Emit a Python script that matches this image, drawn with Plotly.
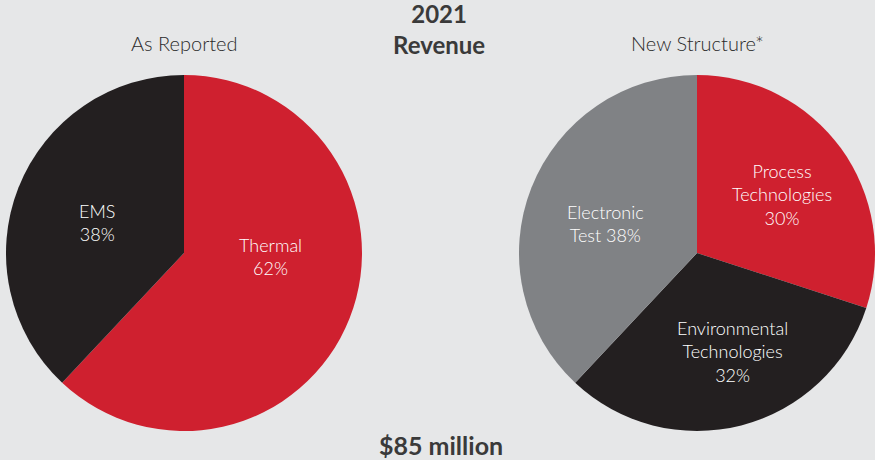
import plotly.graph_objects as go

W, H = 875, 460

left_labels = ["Thermal", "EMS"]
left_values = [62, 38]
left_colors = ["#cf202f", "#231f20"]
left_text = ["Thermal<br>62%", "EMS<br>38%"]

right_labels = ["Process Technologies", "Environmental Technologies", "Electronic Test"]
right_values = [30, 32, 38]
right_colors = ["#cf202f", "#231f20", "#808285"]
right_text = ["Process<br>Technologies<br>30%", "Environmental<br>Technologies<br>32%", "Electronic<br>Test 38%"]

left_title = "As Reported"
right_title = "New Structure*"
main_title = "2021<br>Revenue"
total_text = "$85 million"

# label anchor positions in pixels (x, y from top)
left_pos = [(270, 256), (97, 222)]
right_pos = [(782, 194), (732, 351), (605, 223)]

FONT = "Lato"
BG = "#e6e7e8"

fig = go.Figure()

def px(x, y):
    return x / W, 1 - y / H

def pie_domain(cx, cy, r):
    return dict(x=[(cx - r) / W, (cx + r) / W], y=[1 - (cy + r) / H, 1 - (cy - r) / H])

fig.add_trace(go.Pie(
    labels=left_labels, values=left_values, sort=False, direction="clockwise", rotation=0,
    marker=dict(colors=left_colors, line=dict(width=0)), textinfo="none",
    domain=pie_domain(184, 253, 178), hoverinfo="skip", showlegend=False,
))
fig.add_trace(go.Pie(
    labels=right_labels, values=right_values, sort=False, direction="clockwise", rotation=0,
    marker=dict(colors=right_colors, line=dict(width=0)), textinfo="none",
    domain=pie_domain(697, 253, 178), hoverinfo="skip", showlegend=False,
))

annotations = []
for t, (x, y) in zip(left_text + right_text, left_pos + right_pos):
    ax, ay = px(x, y)
    annotations.append(dict(x=ax, y=ay, xref="paper", yref="paper", text=t, showarrow=False,
                            xanchor="center", yanchor="middle",
                            font=dict(family=FONT, size=18, color="white", weight=300), align="center"))

for t, (x, y), size, bold in [
    (left_title, (184, 43), 20, False),
    (right_title, (697, 43), 20, False),
    (main_title, (439, 29), 24, True),
    (total_text, (441, 445), 25, True),
]:
    ax, ay = px(x, y)
    annotations.append(dict(x=ax, y=ay, xref="paper", yref="paper",
                            text=f"<b>{t}</b>" if bold else t, showarrow=False,
                            xanchor="center", yanchor="middle",
                            font=dict(family=FONT, size=size, color="#3a3a3a" if bold else "#2b2b2b",
                                      weight=700 if bold else 300),
                            align="center"))

fig.update_layout(
    width=W, height=H, margin=dict(l=0, r=0, t=0, b=0),
    paper_bgcolor=BG, plot_bgcolor=BG, annotations=annotations,
)

fig.write_html("out.html", config={"displayModeBar": False},
               post_script="document.body.style.margin='0';document.body.style.background='%s';" % BG)
